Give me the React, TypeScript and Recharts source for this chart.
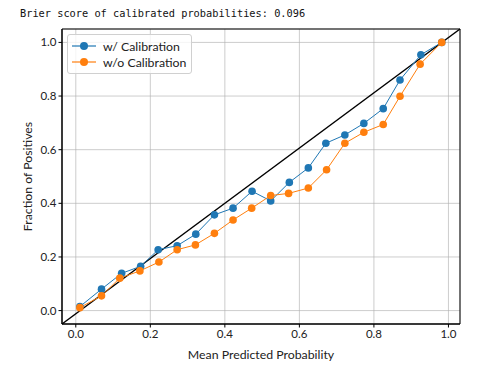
import React from "react";
import {
  ComposedChart,
  Line,
  XAxis,
  YAxis,
  CartesianGrid,
  ReferenceLine,
  ReferenceArea,
} from "recharts";

const title = "Brier score of calibrated probabilities: 0.096";

// mean predicted probability per bin
const calX = [0.011, 0.069, 0.123, 0.174, 0.221, 0.272, 0.322, 0.372, 0.422, 0.473, 0.523, 0.573, 0.624, 0.671, 0.722, 0.773, 0.825, 0.87, 0.926, 0.982];
const calY = [0.015, 0.08, 0.139, 0.165, 0.227, 0.242, 0.285, 0.357, 0.382, 0.445, 0.409, 0.478, 0.532, 0.624, 0.655, 0.698, 0.753, 0.86, 0.954, 1.0];

const rawX = [0.011, 0.069, 0.118, 0.172, 0.223, 0.272, 0.321, 0.372, 0.422, 0.472, 0.523, 0.571, 0.624, 0.673, 0.722, 0.773, 0.825, 0.87, 0.924, 0.982];
const rawY = [0.011, 0.055, 0.121, 0.148, 0.181, 0.227, 0.245, 0.288, 0.338, 0.382, 0.429, 0.437, 0.457, 0.525, 0.624, 0.665, 0.694, 0.799, 0.919, 1.0];

const ticks = [0, 0.2, 0.4, 0.6, 0.8, 1.0];
const xDomain: [number, number] = [-0.037, 1.031];
const yDomain: [number, number] = [-0.05, 1.05];

const BLUE = "#1f77b4";
const ORANGE = "#ff7f0e";
const FONT = "Lato, 'Noto Sans', sans-serif";

const calData = calX.map((x, i) => ({ x, y: calY[i] }));
const rawData = rawX.map((x, i) => ({ x, y: rawY[i] }));

const legendItems = [
  { label: "w/ Calibration", color: BLUE },
  { label: "w/o Calibration", color: ORANGE },
];

function LegendBox() {
  return (
    <div
      style={{
        position: "absolute",
        left: 67,
        top: 34,
        background: "rgba(255,255,255,0.8)",
        border: "1px solid #d0d0d0",
        borderRadius: 3,
        padding: "3px 5px 3px 4px",
        fontFamily: FONT,
        fontSize: 12.3,
        color: "#222",
      }}
    >
      {legendItems.map((it) => (
        <div key={it.label} style={{ display: "flex", alignItems: "center", height: 16 }}>
          <svg width={24} height={10} style={{ marginRight: 7 }}>
            <line x1={0} y1={5} x2={24} y2={5} stroke={it.color} strokeWidth={1.2} />
            <circle cx={12} cy={5} r={4} fill={it.color} />
          </svg>
          <span>{it.label}</span>
        </div>
      ))}
    </div>
  );
}

export default function App() {
  const tickStyle = { fontFamily: FONT, fontSize: 11.5, fill: "#222" };
  return (
    <div style={{ position: "absolute", left: 0, top: 0, width: 486, height: 372, background: "#fff" }}>
      <div
        style={{
          position: "absolute",
          left: 20,
          top: 7,
          fontFamily: "'DejaVu Sans Mono', monospace",
          fontSize: 10.3,
          color: "#111",
          whiteSpace: "pre",
        }}
      >
        {title}
      </div>
      <ComposedChart
        width={486}
        height={372}
        margin={{ top: 29, right: 26, left: 0, bottom: 0 }}
      >
        <CartesianGrid stroke="#b0b0b0" strokeWidth={0.8} strokeOpacity={0.8} />
        <XAxis
          type="number"
          dataKey="x"
          domain={xDomain}
          ticks={ticks}
          allowDataOverflow
          tickFormatter={(v: number) => v.toFixed(1)}
          tick={tickStyle}
          tickSize={3.5}
          tickMargin={2}
          height={48}
          stroke="#000"
          label={{ value: "Mean Predicted Probability", position: "insideBottom", offset: 13, style: { fontFamily: FONT, fontSize: 12.3, fill: "#222" } }}
        />
        <YAxis
          type="number"
          dataKey="y"
          domain={yDomain}
          ticks={ticks}
          allowDataOverflow
          tickFormatter={(v: number) => v.toFixed(1)}
          tick={tickStyle}
          tickSize={3.5}
          tickMargin={2}
          width={62}
          stroke="#000"
          label={{ value: "Fraction of Positives", angle: -90, position: "insideLeft", offset: 28, style: { textAnchor: "middle", fontFamily: FONT, fontSize: 12.3, fill: "#222" } }}
        />
        <ReferenceArea
          x1={xDomain[0]}
          x2={xDomain[1]}
          y1={yDomain[0]}
          y2={yDomain[1]}
          fill="none"
          stroke="#000"
          strokeWidth={1}
          ifOverflow="extendDomain"
        />
        <ReferenceLine
          segment={[
            { x: xDomain[0], y: yDomain[0] },
            { x: xDomain[1], y: yDomain[1] },
          ]}
          stroke="#000"
          strokeWidth={1.5}
        />
        <Line
          data={calData}
          dataKey="y"
          type="linear"
          stroke={BLUE}
          strokeWidth={1}
          dot={{ r: 3.8, fill: BLUE, stroke: BLUE, strokeWidth: 0 }}
          isAnimationActive={false}
        />
        <Line
          data={rawData}
          dataKey="y"
          type="linear"
          stroke={ORANGE}
          strokeWidth={1}
          dot={{ r: 3.8, fill: ORANGE, stroke: ORANGE, strokeWidth: 0 }}
          isAnimationActive={false}
        />
      </ComposedChart>
      <LegendBox />
    </div>
  );
}
